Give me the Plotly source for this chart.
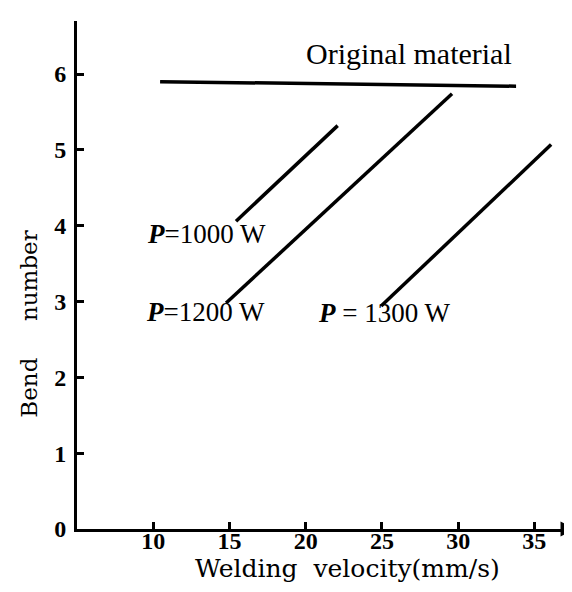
import plotly.graph_objects as go

# Data
orig_velocity = [10.45, 33.8]
orig_bend = [5.90, 5.84]
p1000_velocity = [15.43, 22.1]
p1000_bend = [4.06, 5.32]
p1200_velocity = [14.78, 29.6]
p1200_bend = [2.98, 5.74]
p1300_velocity = [24.95, 36.1]
p1300_bend = [2.94, 5.07]

x_ticks = [10, 15, 20, 25, 30, 35]
y_ticks = [0, 1, 2, 3, 4, 5, 6]

FONT = "Liberation Serif"
TFONT = "DejaVu Serif"
line_style = dict(color="black", width=3.5)

fig = go.Figure()
for xs, ys, name in [
    (orig_velocity, orig_bend, "Original material"),
    (p1000_velocity, p1000_bend, "P=1000 W"),
    (p1200_velocity, p1200_bend, "P=1200 W"),
    (p1300_velocity, p1300_bend, "P=1300 W"),
]:
    fig.add_trace(go.Scatter(x=xs, y=ys, mode="lines", name=name,
                             line=line_style, showlegend=False))

annotations = [
    dict(x=26.8, y=6.27, text="Original material", size=30),
    dict(x=13.5, y=3.89, text="<b><i>P</i></b>=1000 W", size=27),
    dict(x=13.4, y=2.86, text="<b><i>P</i></b>=1200 W", size=27),
    dict(x=25.14, y=2.85, text="<b><i>P</i></b> = 1300 W", size=27),
]
for a in annotations:
    fig.add_annotation(x=a["x"], y=a["y"], xref="x", yref="y", text=a["text"],
                       showarrow=False,
                       font=dict(family=FONT, size=a["size"], color="black"))

# axis titles
fig.add_annotation(x=-0.127, y=0.404, xref="paper", yref="paper",
                   text="Bend&nbsp;&nbsp;&nbsp;&nbsp;&nbsp;number", textangle=-90,
                   showarrow=False, font=dict(family=TFONT, size=23, color="black"))
fig.add_annotation(x=0.545, y=0, xref="paper", yref="paper", yshift=-56,
                   text="Welding&nbsp; velocity(mm/s)", showarrow=False,
                   font=dict(family=TFONT, size=25, color="black"))

# arrow head at end of x-axis
fig.add_annotation(x=37.7, y=0, ax=36.9, ay=0, xref="x", yref="y",
                   axref="x", ayref="y", text="", showarrow=True,
                   arrowhead=2, arrowsize=1, arrowwidth=3, arrowcolor="black")

fig.update_layout(
    width=572, height=592,
    margin=dict(l=69, r=6, t=13, b=71),
    plot_bgcolor="white", paper_bgcolor="white",
    font=dict(family=FONT, color="black"),
)
fig.update_xaxes(range=[5, 37.6], tickvals=x_ticks,
                 ticktext=[f"<b>{t}</b>" for t in x_ticks],
                 ticks="inside", ticklen=7, tickwidth=2.5, tickcolor="black",
                 showline=True, linewidth=3, linecolor="black",
                 showgrid=False, zeroline=False,
                 tickfont=dict(family=FONT, size=24, color="black"),
                 ticklabelstandoff=-12)
fig.update_yaxes(range=[0, 6.7], tickvals=y_ticks,
                 ticktext=[f"<b>{t}</b>" for t in y_ticks],
                 ticks="inside", ticklen=7, tickwidth=2.5, tickcolor="black",
                 showline=True, linewidth=3, linecolor="black",
                 showgrid=False, zeroline=False,
                 tickfont=dict(family=FONT, size=24, color="black"),
                 ticklabelstandoff=3)

fig.write_html("out.html")
